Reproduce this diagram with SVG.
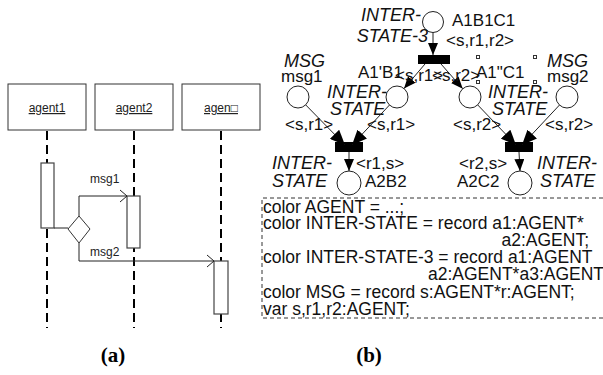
<svg xmlns="http://www.w3.org/2000/svg" width="603" height="375" viewBox="0 0 603 375">
<defs>
<style>
.box{fill:#fff;stroke:#333;stroke-width:1}
.act{fill:#fff;stroke:#444;stroke-width:1.2}
.life{stroke:#000;stroke-width:2;stroke-dasharray:9 5;fill:none}
.msg{fill:none;stroke:#222;stroke-width:1}
.lbl{font-family:"Liberation Sans",Arial,sans-serif;font-size:12px;fill:#222}
.place{fill:#fff;stroke:#222;stroke-width:1}
.arc{fill:none;stroke:#222;stroke-width:1}
.t{font-family:"Liberation Sans",Arial,sans-serif;font-size:17px;fill:#111}
.ti{font-family:"Liberation Sans",Arial,sans-serif;font-size:18px;font-style:italic;fill:#111}
.code{font-family:"Liberation Sans",Arial,sans-serif;font-size:17.5px;fill:#111}
.cap{font-family:"Liberation Serif","Times New Roman",serif;font-size:21px;font-weight:bold;fill:#000}
.dash{fill:none;stroke:#333;stroke-width:1;stroke-dasharray:4 3}
.hdl{fill:#fff;stroke:#333;stroke-width:1}
</style>
<marker id="ah" viewBox="0 0 12 10" refX="12" refY="5" markerWidth="12" markerHeight="10" markerUnits="userSpaceOnUse" orient="auto">
<path d="M0,0 L12,5 L0,10 z" fill="#000"/>
</marker>
<marker id="ahb" viewBox="0 0 15 13" refX="15" refY="6.5" markerWidth="15" markerHeight="13" markerUnits="userSpaceOnUse" orient="auto">
<path d="M0,0 L15,6.5 L0,13 z" fill="#000"/>
</marker>
</defs>
<rect width="603" height="375" fill="#fff"/>

<!-- (a) sequence diagram -->
<g id="agent1">
<rect class="box" x="8" y="84" width="78" height="46"/>
<text class="lbl" x="47" y="112" text-anchor="middle" text-decoration="underline">agent1</text>
<line class="life" x1="47" y1="131" x2="47" y2="328"/>
<rect class="act" x="41" y="163" width="13" height="65"/>
</g>
<g id="agent2">
<rect class="box" x="95" y="84" width="78" height="46"/>
<text class="lbl" x="134" y="112" text-anchor="middle" text-decoration="underline">agent2</text>
<line class="life" x1="134" y1="131" x2="134" y2="328"/>
<rect class="act" x="127" y="196" width="13" height="52"/>
</g>
<g id="agent3">
<rect class="box" x="182" y="84" width="78" height="46"/>
<text class="lbl" x="221" y="112" text-anchor="middle" text-decoration="underline">agen□</text>
<line class="life" x1="221" y1="131" x2="221" y2="328"/>
<rect class="act" x="214" y="261" width="14" height="53"/>
</g>
<g id="choice">
<polygon class="box" points="68,229 79,216 90,229 79,243"/>
</g>
<g id="messages">
<line class="msg" x1="54" y1="228" x2="68" y2="228"/>
<polyline class="msg" points="79,216 79,196 127,196"/>
<polyline class="msg" points="120,190 127,196 120,202"/>
<text class="lbl" x="90" y="183">msg1</text>
<polyline class="msg" points="79,243 79,261 214,261"/>
<polyline class="msg" points="207,255 214,261 207,267"/>
<text class="lbl" x="90" y="256">msg2</text>
</g>

<!-- (b) Petri net -->
<g id="A1B1C1">
<circle class="place" cx="433" cy="22" r="10.5"/>
<text class="ti" x="421" y="21" text-anchor="end">INTER-</text>
<text class="ti" x="428" y="42" text-anchor="end">STATE-3</text>
<text class="t" x="452" y="26">A1B1C1</text>
<text class="t" x="446" y="46">&lt;s,r1,r2&gt;</text>
</g>
<g id="T1">
<rect x="418" y="55" width="32" height="9" fill="#000"/>
</g>
<g id="msg1">
<circle class="place" cx="298" cy="97" r="11"/>
<text class="ti" x="284" y="67">MSG</text>
<text class="t" x="281" y="82">msg1</text>
</g>
<g id="A1pB1">
<circle class="place" cx="397" cy="97" r="11"/>
<text class="t" x="358" y="78">A1'B1</text>
<text class="ti" x="327" y="98">INTER-</text>
<text class="ti" x="330" y="115">STATE</text>
</g>
<g id="A1ppC1">
<circle class="place" cx="470" cy="97" r="11"/>
<text class="t" x="476" y="78">A1"C1</text>
<text class="ti" x="488" y="98">INTER-</text>
<text class="ti" x="492" y="115">STATE</text>
<rect class="hdl" x="476.5" y="55.5" width="3" height="3"/>
<rect class="hdl" x="533.5" y="55.5" width="3" height="3"/>
<rect class="hdl" x="476.5" y="80.5" width="3" height="3"/>
<rect class="hdl" x="533.5" y="80.5" width="3" height="3"/>
</g>
<g id="msg2">
<circle class="place" cx="567" cy="97" r="11"/>
<text class="ti" x="547" y="67">MSG</text>
<text class="t" x="547" y="82">msg2</text>
</g>
<g id="T2">
<rect x="335" y="142" width="28" height="10" fill="#000"/>
</g>
<g id="T3">
<rect x="505" y="142" width="28" height="10" fill="#000"/>
</g>
<g id="A2B2">
<circle class="place" cx="349" cy="183" r="12"/>
<text class="ti" x="272" y="169">INTER-</text>
<text class="ti" x="272" y="187">STATE</text>
<text class="t" x="365" y="187">A2B2</text>
</g>
<g id="A2C2">
<circle class="place" cx="520" cy="183" r="12"/>
<text class="t" x="457" y="187">A2C2</text>
<text class="ti" x="537" y="169">INTER-</text>
<text class="ti" x="540" y="187">STATE</text>
</g>

<g id="connectors">
<line class="arc" x1="433" y1="32.5" x2="433" y2="55" marker-end="url(#ah)"/>
<line class="arc" x1="425" y1="64" x2="404" y2="88.6" marker-end="url(#ah)"/>
<line class="arc" x1="441" y1="64" x2="462.7" y2="88.7" marker-end="url(#ah)"/>
<line class="arc" x1="305.7" y1="104.9" x2="345" y2="145" marker-end="url(#ahb)"/>
<line class="arc" x1="389.5" y1="105" x2="352" y2="145" marker-end="url(#ahb)"/>
<line class="arc" x1="477.7" y1="104.9" x2="516" y2="145" marker-end="url(#ahb)"/>
<line class="arc" x1="559.5" y1="105" x2="522" y2="145" marker-end="url(#ahb)"/>
<line class="arc" x1="349" y1="152" x2="349" y2="171" marker-end="url(#ah)"/>
<line class="arc" x1="519" y1="152" x2="520" y2="171" marker-end="url(#ah)"/>
</g>
<g id="arc-labels">
<text class="t" x="395" y="81">&lt;s,r1&gt;</text>
<text class="t" x="432" y="81">&lt;s,r2&gt;</text>
<text class="t" x="285" y="130">&lt;s,r1&gt;</text>
<text class="t" x="367" y="130">&lt;s,r1&gt;</text>
<text class="t" x="453" y="130">&lt;s,r2&gt;</text>
<text class="t" x="545" y="130">&lt;s,r2&gt;</text>
<text class="t" x="356" y="169">&lt;r1,s&gt;</text>
<text class="t" x="459" y="169">&lt;r2,s&gt;</text>
</g>

<g id="declarations">
<polyline class="dash" points="610,198 262,198 262,318 610,318"/>
<text class="code" x="263" y="213">color AGENT = ...;</text>
<text class="code" x="263" y="229">color INTER-STATE = record a1:AGENT*</text>
<text class="code" x="589" y="246" text-anchor="end">a2:AGENT;</text>
<text class="code" x="263" y="263">color INTER-STATE-3 = record a1:AGENT</text>
<text class="code" x="428" y="280">a2:AGENT*a3:AGENT</text>
<text class="code" x="263" y="298">color MSG = record s:AGENT*r:AGENT;</text>
<text class="code" x="263" y="315">var s,r1,r2:AGENT;</text>
</g>

<text class="cap" x="113" y="362" text-anchor="middle">(a)</text>
<text class="cap" x="369" y="362" text-anchor="middle">(b)</text>
</svg>
